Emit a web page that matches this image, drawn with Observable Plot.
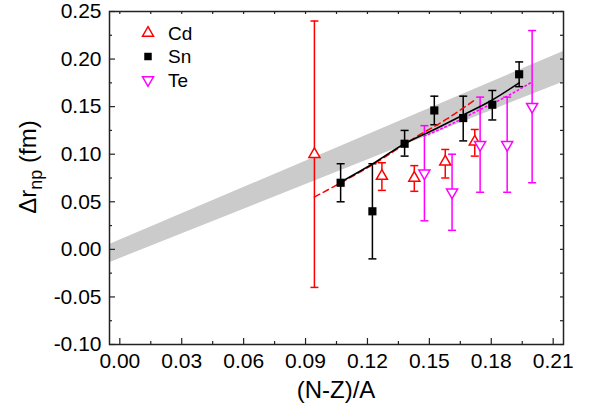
<!DOCTYPE html>
<html>
<head>
<meta charset="utf-8">
<script src="https://cdn.jsdelivr.net/npm/d3@7"></script>
<script src="https://cdn.jsdelivr.net/npm/@observablehq/plot@0.6"></script>
<style>
  html, body { margin: 0; padding: 0; background: #fff; }
  #chart { width: 597px; height: 406px; }
</style>
</head>
<body>
<div id="chart"></div>
<script>
// ---- data ----
const cdX  = [0.0943, 0.127, 0.1427, 0.1577, 0.172];
const cdY  = [0.100, 0.077, 0.075, 0.092, 0.113];
const cdLo = [-0.040, 0.062, 0.061, 0.075, 0.098];
const cdHi = [0.240, 0.091, 0.088, 0.105, 0.126];
const cdTheory = [0.055, 0.095, 0.117, 0.136, 0.157];

const snX  = [0.107, 0.1224, 0.138, 0.1524, 0.1664, 0.1805, 0.1935];
const snY  = [0.070, 0.040, 0.111, 0.146, 0.138, 0.152, 0.184];
const snLo = [0.050, -0.010, 0.098, 0.131, 0.114, 0.136, 0.171];
const snHi = [0.090, 0.090, 0.125, 0.161, 0.161, 0.167, 0.197];
const snTheory = [0.0707, 0.0897, 0.111, 0.126, 0.1413, 0.157, 0.175];

const teX  = [0.1476, 0.161, 0.1746, 0.1877, 0.1998];
const teY  = [0.080, 0.060, 0.110, 0.110, 0.150];
const teLo = [0.030, 0.020, 0.060, 0.060, 0.070];
const teHi = [0.130, 0.100, 0.160, 0.160, 0.230];
const teTheory = [0.119, 0.132, 0.147, 0.161, 0.176];

const bandX  = [-0.005, 0.215];
const bandLo = [-0.014, 0.176];
const bandHi = [0.005, 0.208];

const xMajor = [0.00, 0.03, 0.06, 0.09, 0.12, 0.15, 0.18, 0.21];
const xMinor = [0.015, 0.045, 0.075, 0.105, 0.135, 0.165, 0.195];
const yMajor = [-0.10, -0.05, 0.00, 0.05, 0.10, 0.15, 0.20, 0.25];
const yMinor = [-0.075, -0.025, 0.025, 0.075, 0.125, 0.175, 0.225];

const seriesNames = ["Cd", "Sn", "Te"];
const xLabel = "(N-Z)/A";

// ---- build tables ----
const mk = (xs, ys, lo, hi, th) => xs.map((x, i) => ({x, y: ys[i], lo: lo[i], hi: hi[i], t: th[i]}));
const cd = mk(cdX, cdY, cdLo, cdHi, cdTheory);
const sn = mk(snX, snY, snLo, snHi, snTheory);
const te = mk(teX, teY, teLo, teHi, teTheory);
const band = bandX.map((x, i) => ({x, lo: bandLo[i], hi: bandHi[i]}));

const RED = "#ff0000", MAG = "#ff00ff", BLK = "#000000";

const capSymbol = {
  draw(ctx, size) { ctx.moveTo(-4, 0); ctx.lineTo(4, 0); }
};

function errMarks(data, color) {
  const caps = data.flatMap(d => [{x: d.x, y: d.lo}, {x: d.x, y: d.hi}]);
  return [
    Plot.ruleX(data, {x: "x", y1: "lo", y2: "hi", stroke: color, strokeWidth: 1.5}),
    Plot.dot(caps, {x: "x", y: "y", symbol: capSymbol, stroke: color, strokeWidth: 1.5, fill: "none"})
  ];
}

const H = 406 - 11 - 62, W = 597 - 109 - 34;

const plot = Plot.plot({
  width: 597, height: 406,
  marginLeft: 109, marginRight: 34, marginTop: 11, marginBottom: 62,
  x: {domain: [-0.005, 0.215]},
  y: {domain: [-0.10, 0.25]},
  style: {fontFamily: "'Liberation Sans', Arial, sans-serif", fontSize: "21px", background: "white", color: "black"},
  marks: [
    Plot.areaY(band, {x: "x", y1: "lo", y2: "hi", fill: "#cbcbcb"}),
    ...errMarks(cd, RED),
    ...errMarks(te, MAG),
    ...errMarks(sn, BLK),
    Plot.line(cd, {x: "x", y: "t", stroke: RED, strokeWidth: 1.5, strokeDasharray: "6,4", curve: "monotone-x"}),
    Plot.line(sn, {x: "x", y: "t", stroke: BLK, strokeWidth: 1.5, curve: "monotone-x"}),
    Plot.line(te, {x: "x", y: "t", stroke: MAG, strokeWidth: 1.6, strokeDasharray: "1.5,3", curve: "monotone-x"}),
    Plot.dot(cd, {x: "x", y: "y", symbol: "triangle", r: 4.1, stroke: RED, strokeWidth: 1.5, fill: "white"}),
    Plot.dot(te, {x: "x", y: "y", symbol: "triangle", rotate: 180, r: 4.1, stroke: MAG, strokeWidth: 1.5, fill: "white"}),
    Plot.dot(sn, {x: "x", y: "y", symbol: "square", r: 4.6, fill: BLK, stroke: "none"}),
    // axis ticks
    Plot.ruleX(xMajor, {x: d => d, insetTop: H - 6, stroke: "#222", strokeWidth: 1.2}),
    Plot.ruleX(xMinor, {x: d => d, insetTop: H - 3, stroke: "#222", strokeWidth: 1.2}),
    Plot.ruleX(xMajor.concat(xMinor), {x: d => d, insetBottom: H - 3, stroke: "#222", strokeWidth: 1.2}),
    Plot.ruleY(yMajor, {y: d => d, insetRight: W - 6, stroke: "#222", strokeWidth: 1.2}),
    Plot.ruleY(yMinor, {y: d => d, insetRight: W - 3, stroke: "#222", strokeWidth: 1.2}),
    Plot.ruleY(yMajor.concat(yMinor), {y: d => d, insetLeft: W - 3, stroke: "#222", strokeWidth: 1.2}),
    Plot.axisX(xMajor, {tickSize: 0, tickPadding: 9, tickFormat: d => d.toFixed(2), fontSize: 21, label: null}),
    Plot.axisY(yMajor, {tickSize: 0, tickPadding: 8, tickFormat: d => d.toFixed(2), fontSize: 21, label: null}),
    Plot.frame({stroke: "#222", strokeWidth: 1.5})
  ]
});

document.getElementById("chart").appendChild(plot);

// ---- axis titles & legend (SVG text) ----
const svg = d3.select(plot);
const ff = "'Liberation Sans', Arial, sans-serif";

svg.append("text")
  .attr("x", 336).attr("y", 398)
  .attr("text-anchor", "middle")
  .style("font-family", ff).style("font-size", "24px").attr("fill", "black")
  .text(xLabel);

const yl = svg.append("text")
  .attr("transform", "translate(36,167) rotate(-90)")
  .attr("text-anchor", "middle")
  .style("font-family", ff).style("font-size", "24px").attr("fill", "black");
yl.append("tspan").text("Δr");
yl.append("tspan").style("font-size", "18px").attr("dy", 6).text("np");
yl.append("tspan").attr("dy", -6).text(" (fm)");

const leg = svg.append("g");
const legItems = [
  {name: seriesNames[0], type: d3.symbolTriangle, rot: 0, stroke: RED, fill: "white", size: 52},
  {name: seriesNames[1], type: d3.symbolSquare, rot: 0, stroke: "none", fill: BLK, size: 56},
  {name: seriesNames[2], type: d3.symbolTriangle, rot: 180, stroke: MAG, fill: "white", size: 52}
];
legItems.forEach((it, i) => {
  const cy = 33 + i * 23.5;
  leg.append("path")
    .attr("d", d3.symbol().type(it.type).size(it.size)())
    .attr("transform", `translate(148,${cy}) rotate(${it.rot})`)
    .attr("fill", it.fill).attr("stroke", it.stroke).attr("stroke-width", 1.5);
  leg.append("text").attr("x", 168).attr("y", cy + 6.5).attr("fill", "black")
    .attr("text-anchor", "start")
    .style("font-family", ff).style("font-size", "19px")
    .text(it.name);
});
</script>
</body>
</html>
